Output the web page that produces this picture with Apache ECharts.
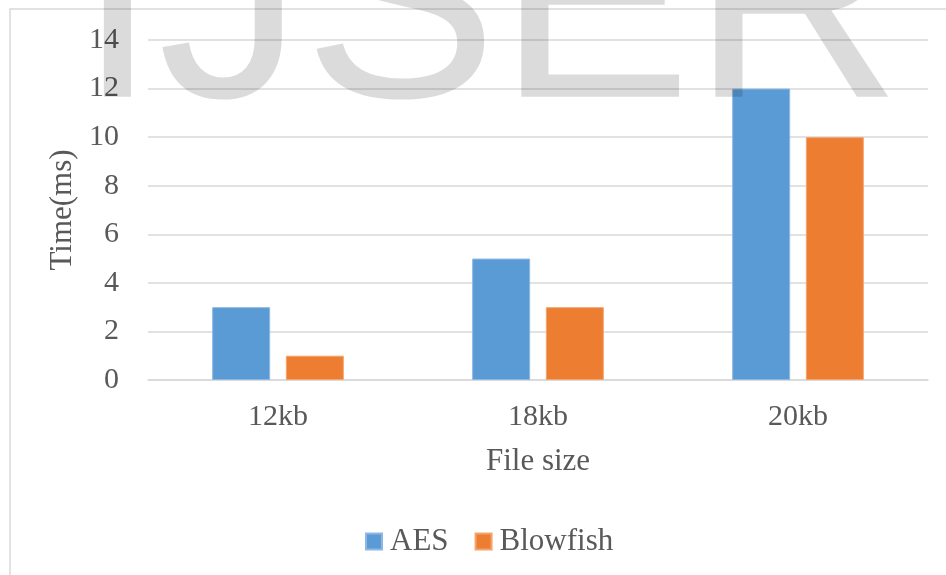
<!DOCTYPE html>
<html>
<head>
<meta charset="utf-8">
<script src="https://cdn.jsdelivr.net/npm/echarts@6/dist/echarts.min.js"></script>
<style>
  html, body { margin: 0; padding: 0; background: #fff; }
  #chart { width: 946px; height: 575px; }
</style>
</head>
<body>
<div id="chart"></div>
<script>
// File sizes tested and encryption times (ms)
const categories = ['12kb', '18kb', '20kb'];
const aesTimes = [3, 5, 12];
const blowfishTimes = [1, 3, 10];
const yTicks = { min: 0, max: 14, interval: 2 };

const serif = '"Liberation Serif", "Times New Roman", serif';
const textColor = '#595959';
const gridColor = '#d9d9d9';

const chart = echarts.init(document.getElementById('chart'));
chart.setOption({
  backgroundColor: '#ffffff',
  animation: false,
  grid: { left: 148, right: 18, top: 40, bottom: 195 },
  legend: {
    left: 360,
    top: 521,
    itemWidth: 16,
    itemHeight: 16,
    itemGap: 26,
    icon: 'rect',
    textStyle: { fontFamily: serif, fontSize: 31, color: textColor, padding: [0, 0, 0, 3] },
    data: ['AES', 'Blowfish']
  },
  xAxis: {
    type: 'category',
    data: categories,
    name: 'File size',
    nameLocation: 'middle',
    nameGap: 66,
    nameTextStyle: { fontFamily: serif, fontSize: 31, color: textColor },
    axisLine: { show: true, lineStyle: { color: gridColor, width: 1.5 } },
    axisTick: { show: false },
    axisLabel: { fontFamily: serif, fontSize: 30, color: textColor, margin: 22 }
  },
  yAxis: {
    type: 'value',
    min: yTicks.min,
    max: yTicks.max,
    interval: yTicks.interval,
    name: 'Time(ms)',
    nameLocation: 'middle',
    nameGap: 67,
    nameRotate: 90,
    nameTextStyle: { fontFamily: serif, fontSize: 31, color: textColor },
    axisLine: { show: false },
    axisTick: { show: false },
    axisLabel: { fontFamily: serif, fontSize: 30, color: textColor, margin: 29 },
    splitLine: { lineStyle: { color: gridColor, width: 1.5 } }
  },
  series: [
    {
      name: 'AES',
      type: 'bar',
      data: aesTimes,
      barWidth: 58,
      barGap: '27%',
      itemStyle: { color: '#5b9bd5', borderColor: '#8cb8e3', borderWidth: 1 }
    },
    {
      name: 'Blowfish',
      type: 'bar',
      data: blowfishTimes,
      barWidth: 58,
      barGap: '27%',
      itemStyle: { color: '#ed7d31', borderColor: '#f3a46f', borderWidth: 1 }
    }
  ],
  graphic: [
    {
      type: 'rect',
      z: 0,
      silent: true,
      shape: { x: 10, y: 9, width: 1000, height: 1000 },
      style: { fill: 'none', stroke: gridColor, lineWidth: 1.5 }
    },
    {
      type: 'text',
      z: 100,
      silent: true,
      x: 77,
      y: 162,
      style: {
        text: 'IJSER',
        fontFamily: '"Liberation Sans", Arial, sans-serif',
        fontSize: 291,
        fill: 'rgba(0,0,0,0.14)',
        verticalAlign: 'bottom'
      }
    }
  ]
});
</script>
</body>
</html>
